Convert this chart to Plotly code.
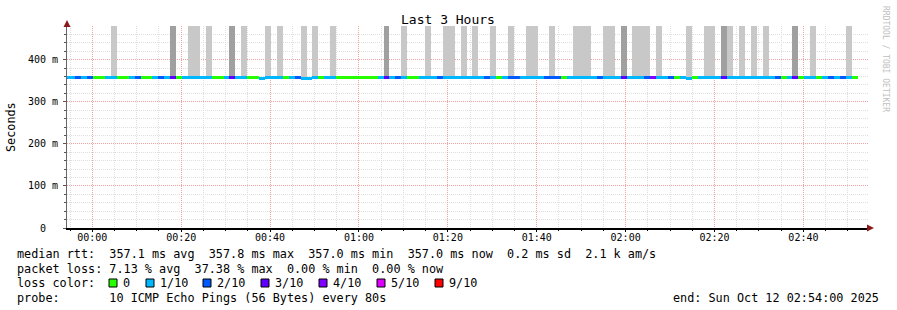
import pandas as pd
import plotly.graph_objects as go

# ---------------- data ----------------
# loss per 80 s step (lost pings out of 10), first step starts 2025-10-11 23:53:32
loss_tenths = [
    1, 1, 2, 1, 2, 0, 0, 1, 1, 0,
    0, 1, 2, 0, 0, 1, 2, 1, 3, 0,
    1, 1, 1, 1, 1, 0, 0, 1, 3, 1,
    1, 0, 0, 1, 1, 1, 1, 0, 1, 2,
    1, 1, 1, 0, 1, 1, 0, 0, 0, 0,
    0, 0, 0, 1, 3, 1, 2, 1, 0, 0,
    1, 1, 1, 2, 1, 1, 1, 1, 1, 1,
    1, 2, 1, 0, 1, 2, 2, 1, 1, 1,
    1, 2, 2, 2, 0, 1, 1, 1, 1, 1,
    2, 1, 1, 1, 3, 1, 1, 1, 2, 4,
    1, 1, 2, 0, 1, 1, 0, 1, 1, 1,
    1, 3, 1, 1, 1, 1, 1, 1, 1, 1,
    2, 0, 1, 3, 0, 1, 1, 0, 1, 2,
    1, 2, 1, 0,
]
median_ms = [
    357.1, 357.1, 357.1, 357.1, 357.1, 357.1, 357.1, 357.1, 357.1, 357.1,
    357.1, 357.1, 357.1, 357.1, 357.1, 357.1, 357.1, 357.1, 357.1, 357.1,
    357.1, 357.1, 357.1, 357.1, 357.1, 357.1, 357.1, 357.1, 357.1, 357.1,
    357.1, 357.1, 357.1, 355.0, 357.1, 357.1, 357.1, 357.1, 357.1, 357.1,
    355.0, 355.0, 357.1, 357.1, 357.1, 357.1, 357.1, 357.1, 357.1, 357.1,
    357.1, 357.1, 357.1, 357.1, 357.1, 357.1, 357.1, 357.1, 357.1, 357.1,
    357.1, 357.1, 357.1, 357.1, 357.1, 357.1, 357.1, 357.1, 357.1, 357.1,
    357.1, 357.1, 357.1, 357.1, 357.1, 357.1, 357.1, 357.1, 357.1, 357.1,
    357.1, 357.1, 357.1, 357.1, 357.1, 357.1, 357.1, 357.1, 357.1, 357.1,
    357.1, 357.1, 357.1, 357.1, 357.1, 357.1, 357.1, 357.1, 357.1, 357.1,
    357.1, 357.1, 357.1, 357.1, 357.1, 355.0, 357.1, 357.1, 357.1, 357.1,
    357.1, 357.1, 357.1, 357.1, 357.1, 357.1, 357.1, 357.1, 357.1, 357.1,
    357.1, 357.1, 357.1, 357.1, 357.1, 357.1, 357.1, 357.1, 357.1, 357.1,
    357.1, 357.1, 357.1, 357.1,
]
light_smoke_steps = [8, 21, 22, 24, 30, 34, 36, 40, 42, 45, 57, 61, 64, 65, 67, 69,
                     72, 75, 78, 79, 82, 86, 87, 88, 91, 92, 96, 97, 98, 100, 105,
                     108, 109, 112, 114, 116, 118, 126, 132]
dark_smoke_steps = [18, 28, 54, 94, 111, 123]
small_smoke_steps = [7]
smoke_max_ms = 1000.0      # smoke runs off the top of the chart
small_smoke_max_ms = 361.0

loss_labels = ["0", "1/10", "2/10", "3/10", "4/10", "5/10", "9/10"]
loss_colors = ["#26ff00", "#00b8ff", "#0059ff", "#5e00ff", "#7e00ff", "#dd00ff", "#ff0000"]
loss_color_of = {0: "#26ff00", 1: "#00b8ff", 2: "#0059ff", 3: "#5e00ff", 4: "#7e00ff", 5: "#dd00ff", 9: "#ff0000"}

y_tick_vals = [0, 100, 200, 300, 400]
y_tick_text = ["0\u00a0\u00a0", "100 m", "200 m", "300 m", "400 m"]
x_tick_vals = ["2025-10-12 00:00", "2025-10-12 00:20", "2025-10-12 00:40", "2025-10-12 01:00",
               "2025-10-12 01:20", "2025-10-12 01:40", "2025-10-12 02:00", "2025-10-12 02:20",
               "2025-10-12 02:40"]
x_tick_text = ["00:00", "00:20", "00:40", "01:00", "01:20", "01:40", "02:00", "02:20", "02:40"]

stats_rows = [
    "median rtt:  357.1 ms avg  357.8 ms max  357.0 ms min  357.0 ms now  0.2 ms sd  2.1 k am/s",
    "packet loss: 7.13 % avg  37.38 % max  0.00 % min  0.00 % now",
    "loss color:",
    "probe:       10 ICMP Echo Pings (56 Bytes) every 80s",
]
end_text = "end: Sun Oct 12 02:54:00 2025"
title_text = "Last 3 Hours"
y_title = "Seconds"
watermark = "RRDTOOL / TOBI OETIKER"

# ---------------- layout helpers ----------------
W, H = 897, 310
L, R, T, B = 67, 868, 26, 228
MONO = "DejaVu Sans Mono"
TXT = 11.8


def px(x):
    return (x - L) / (R - L)


def py(y):
    return (B - y) / (B - T)


step = pd.Timedelta(seconds=80)
step_start = pd.date_range("2025-10-11 23:53:32", periods=len(loss_tenths), freq="80s")
centers = step_start + step / 2
x_range = [pd.Timestamp("2025-10-11 23:54:18.5"), pd.Timestamp("2025-10-12 02:54:32")]

LINE_HALF = 3.56  # half of a 3px line in ms

fig = go.Figure()


def smoke_trace(idx, top, color):
    xs = [centers[i] for i in idx]
    base = [median_ms[i] + LINE_HALF for i in idx]
    hgt = [top - b for b in base]
    return go.Bar(x=xs, y=hgt, base=base, width=80000, marker=dict(color=color, line=dict(width=0)),
                  hoverinfo="skip", showlegend=False)


fig.add_trace(smoke_trace(light_smoke_steps, smoke_max_ms, "#c8c8c8"))
fig.add_trace(smoke_trace(dark_smoke_steps, smoke_max_ms, "#a0a0a0"))
fig.add_trace(smoke_trace(small_smoke_steps, small_smoke_max_ms, "#c8c8c8"))

fig.add_trace(go.Bar(
    x=list(centers), y=[2 * LINE_HALF] * len(median_ms), base=[m - LINE_HALF for m in median_ms],
    width=80000, marker=dict(color=[loss_color_of[v] for v in loss_tenths], line=dict(width=0)),
    hoverinfo="skip", showlegend=False))

grid_minor = "#dedede"
grid_major = "#f3a0a0"

fig.update_layout(
    width=W, height=H, margin=dict(l=L, r=W - R, t=T, b=H - B, pad=0),
    paper_bgcolor="white", plot_bgcolor="white", barmode="overlay", bargap=0,
    font=dict(family=MONO, size=10, color="black"),
    xaxis=dict(
        type="date", range=x_range, tickmode="array", tickvals=x_tick_vals, ticktext=x_tick_text,
        showgrid=True, gridcolor=grid_major, griddash="1px,1px", gridwidth=1,
        ticks="outside", ticklen=2, tickcolor="black", tickfont=dict(family=MONO, size=10, color="black"),
        ticklabelstandoff=-3,
        showline=True, linecolor="black", linewidth=2, zeroline=False,
        minor=dict(tick0="2025-10-12 00:00", dtick=300000, showgrid=True, gridcolor=grid_minor,
                   griddash="1px,1px", ticks="outside", ticklen=1, tickcolor="black"),
        fixedrange=True,
    ),
    yaxis=dict(
        range=[0, 480], tickmode="array", tickvals=y_tick_vals, ticktext=y_tick_text,
        showgrid=True, gridcolor=grid_major, griddash="1px,1px", gridwidth=1,
        ticks="outside", ticklen=3, tickcolor="#555", tickfont=dict(family=MONO, size=10, color="black"),
        ticklabelstandoff=3,
        showline=True, linecolor="#666", linewidth=1, zeroline=False,
        minor=dict(tick0=0, dtick=20, showgrid=True, gridcolor=grid_minor, griddash="1px,1px",
                   ticks="outside", ticklen=2, tickcolor="#555"),
        fixedrange=True,
    ),
)

PAPER = dict(xref="paper", yref="paper", showarrow=False)
ann = []
ann.append(dict(x=px(448), y=py(19.5), text=title_text, xanchor="center", yanchor="middle",
                font=dict(family=MONO, size=13, color="black"), **PAPER))
ann.append(dict(x=px(11), y=py(127), text=y_title, textangle=-90, xanchor="center",
                yanchor="middle", font=dict(family=MONO, size=TXT, color="black"), **PAPER))
ann.append(dict(x=px(886), y=py(59), text=watermark, textangle=90, xanchor="center",
                yanchor="middle", font=dict(family=MONO, size=8, color="#c0c0c0"), **PAPER))

row_y = [254, 268.5, 283, 297.5]
for txt, yy in zip(stats_rows, row_y):
    ann.append(dict(x=px(15), y=py(yy), text=txt.replace(" ", "\u00a0"), xanchor="left",
                    yanchor="middle", font=dict(family=MONO, size=TXT, color="black"), **PAPER))
ann.append(dict(x=px(881), y=py(row_y[3]), text=end_text.replace(" ", "\u00a0"),
                xanchor="right", yanchor="middle", font=dict(family=MONO, size=TXT, color="black"), **PAPER))

box_x = [109, 146, 203, 261, 319, 377, 435]
shapes = []
for bx, lab, col in zip(box_x, loss_labels, loss_colors):
    shapes.append(dict(type="rect", xref="paper", yref="paper", x0=px(bx), x1=px(bx + 8),
                       y0=py(287), y1=py(279), fillcolor=col, line=dict(color="black", width=1)))
    ann.append(dict(x=px(bx + 12), y=py(row_y[2]), text=lab, xanchor="left",
                    yanchor="middle", font=dict(family=MONO, size=TXT, color="black"), **PAPER))

# axis arrows
arrow_col = "#8b1a1a"
shapes.append(dict(type="path", xref="paper", yref="paper",
                   path=f"M {px(63.5)} {py(27)} L {px(70.5)} {py(27)} L {px(67)} {py(20)} Z",
                   fillcolor=arrow_col, line=dict(width=0)))
shapes.append(dict(type="path", xref="paper", yref="paper",
                   path=f"M {px(867)} {py(224.5)} L {px(867)} {py(231.5)} L {px(874)} {py(228)} Z",
                   fillcolor=arrow_col, line=dict(width=0)))

fig.update_layout(annotations=ann, shapes=shapes)
fig.write_html("out.html")
